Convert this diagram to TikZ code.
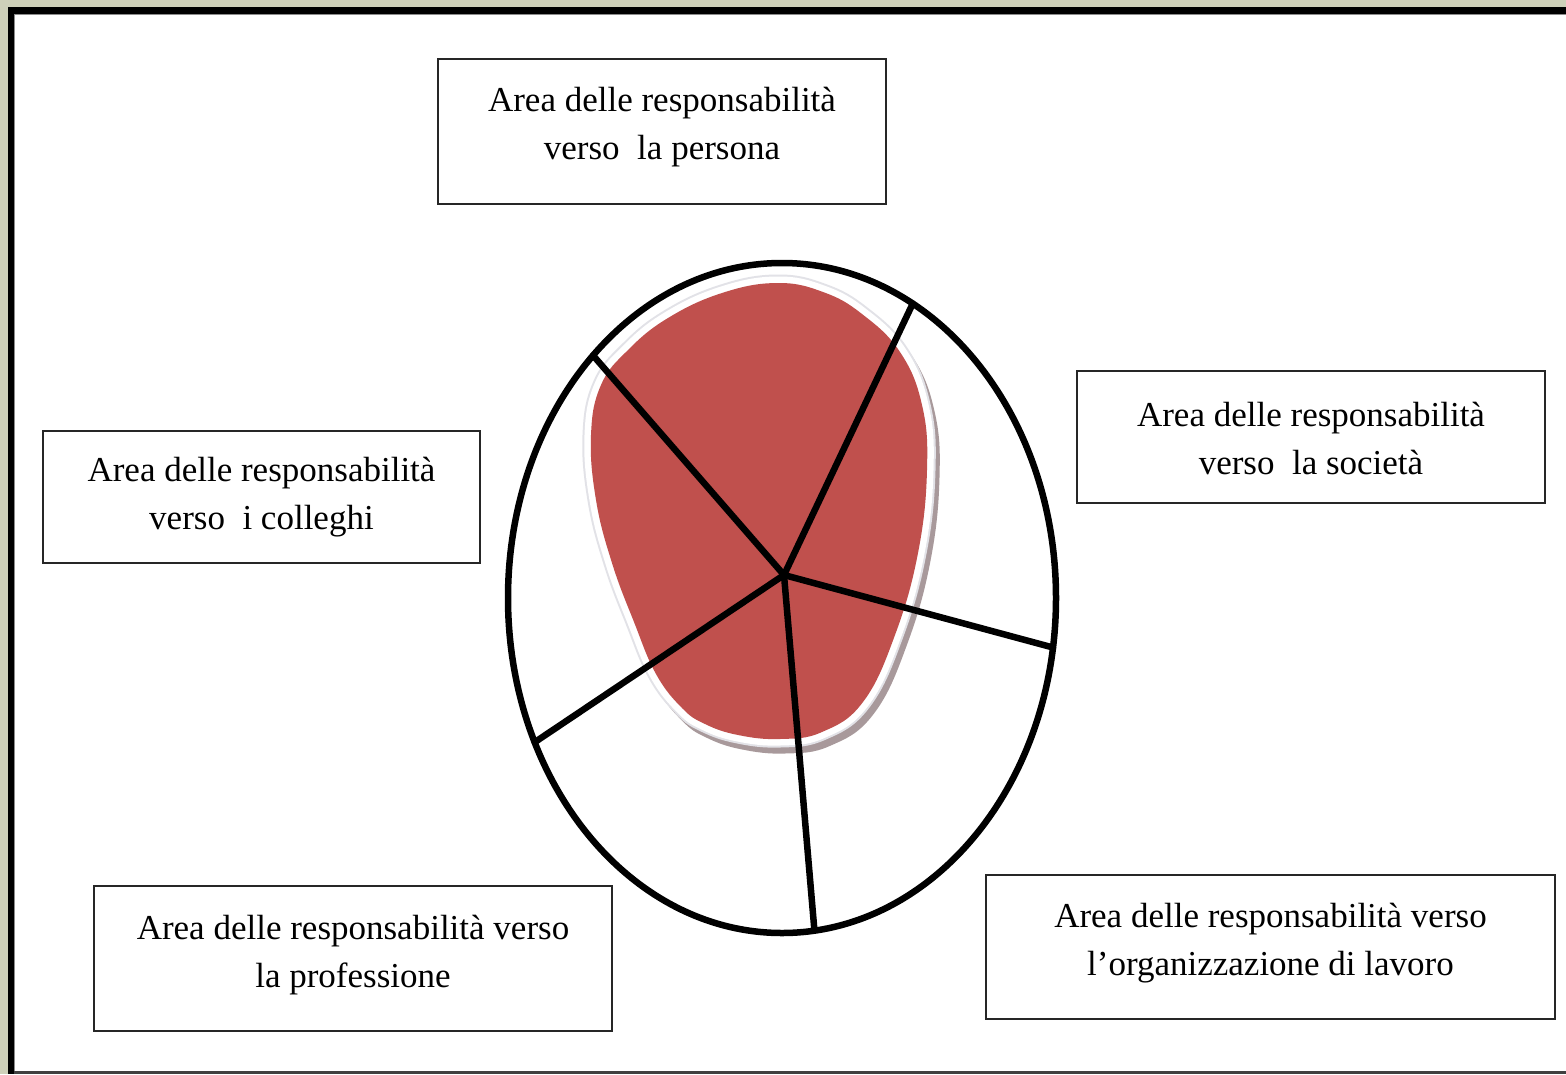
\documentclass[tikz,border=0pt]{standalone}
\usepackage{fontspec}
\setmainfont{Liberation Serif}
\usetikzlibrary{calc}
\definecolor{frameolive}{HTML}{CED0B9}
\definecolor{blobred}{HTML}{C0504D}
\definecolor{blobshadow}{HTML}{A8999B}
\definecolor{ringgrey}{HTML}{E2E2E7}
\begin{document}
\begin{tikzpicture}[x=1pt,y=-1pt,
  areabox/.style={draw=black!85, line width=2.5pt, rectangle, inner sep=0pt},
  areatext/.style={align=center, anchor=north, inner sep=0pt,
    font=\fontsize{35pt}{48pt}\selectfont},
  spoke/.style={line width=6.5pt, line cap=round},
  rim/.style={line width=6.5pt}]
\useasboundingbox (0,0) rectangle (1566,1074);
% frame
\fill[frameolive] (0,0) rectangle (1566,1074);
\fill[black] (8,7) rectangle (1566,1074);
\fill[white] (14,14) rectangle (1566,1071);
\draw[black!45, line width=1pt] (14.5,1071) -- (14.5,14.5) -- (1566,14.5);
\fill[black!75] (14,1071) rectangle (1566,1074);

% boxes
\node[areabox, minimum width=448pt, minimum height=145pt] (b1) at (662,131.5) {};
\node[areabox, minimum width=468pt, minimum height=132pt] (b2) at (1311,437) {};
\node[areabox, minimum width=437pt, minimum height=132pt] (b3) at (261.5,497) {};
\node[areabox, minimum width=518pt, minimum height=145pt] (b4) at (353,958.5) {};
\node[areabox, minimum width=569pt, minimum height=144pt] (b5) at (1270.5,947) {};

\node[areatext] (t1) at ($(b1.north)+(0,29)$) {Area delle responsabilità\\verso~ la persona};
\node[areatext] (t2) at ($(b2.north)+(0,32)$) {Area delle responsabilità\\verso~ la società};
\node[areatext] (t3) at ($(b3.north)+(0,27)$) {Area delle responsabilità\\verso~ i colleghi};
\node[areatext] (t4) at ($(b4.north)+(0,30)$) {Area delle responsabilità verso\\la professione};
\node[areatext] (t5) at ($(b5.north)+(0,29)$) {Area delle responsabilità verso\\l’organizzazione di lavoro};

% blob
\def\blobpath{plot[smooth cycle, tension=0.7] coordinates {(777,283) (823,292) (862,314) (900,352) (922,405) (927,470) (918,553) (895,635) (863,702) (822,732) (780,739) (738,735) (705,724) (682,708) (656,674) (634,622) (612,563) (596,500) (591,435) (601,385) (628,350) (668,318) (722,293)}}
\begin{scope}[shift={(5,7)}]
  \filldraw[blobshadow, line width=15pt, line join=round] \blobpath;
\end{scope}
\filldraw[fill=white, draw=ringgrey, line width=17pt, line join=round] \blobpath;
\draw[white, line width=13pt, line join=round] \blobpath;
\fill[blobred] \blobpath;

% spokes
\coordinate (c) at (784,575);
\coordinate (e1) at ({782+274*cos(133.6)},{598-335*sin(133.6)});
\coordinate (e2) at ({782+274*cos(61.5)},{598-335*sin(61.5)});
\coordinate (e3) at ({782+274*cos(-8.5)},{598-335*sin(-8.5)});
\coordinate (e4) at ({782+274*cos(205.5)},{598-335*sin(205.5)});
\coordinate (e5) at ({782+274*cos(-83.2)},{598-335*sin(-83.2)});
\foreach \e in {e1,e2,e3,e4,e5} \draw[spoke] (c) -- (\e);

% ellipse
\draw[rim] (782,598) ellipse [x radius=274pt, y radius=335pt];
\end{tikzpicture}
\end{document}
